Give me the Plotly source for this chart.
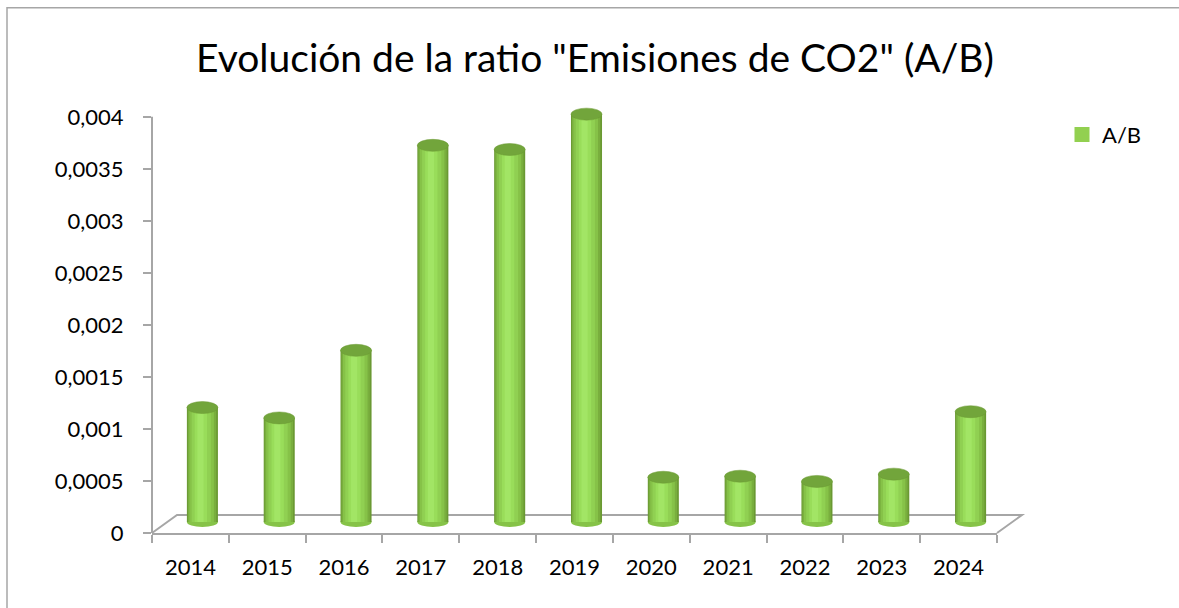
import plotly.graph_objects as go

years = ["2014", "2015", "2016", "2017", "2018", "2019", "2020", "2021", "2022", "2023", "2024"]
ratio_ab = [0.00110, 0.00100, 0.00165, 0.00362, 0.00358, 0.00392, 0.00043, 0.00044, 0.00039, 0.00046, 0.00106]
y_tick_vals = [0, 0.0005, 0.001, 0.0015, 0.002, 0.0025, 0.003, 0.0035, 0.004]
y_tick_text = ["0", "0,0005", "0,001", "0,0015", "0,002", "0,0025", "0,003", "0,0035", "0,004"]
series_name = "A/B"
title_text = 'Evolución de la ratio "Emisiones de CO2" (A/B)'

W, H = 1179, 608
YMAX_AXIS = 0.004      # top of the drawn value axis
YMAX_RANGE = 0.0042    # a bit of headroom so the cylinder caps are not clipped
AX_TOP_PX, AX_BOT_PX = 117, 533
ppu = (AX_BOT_PX - AX_TOP_PX) / YMAX_AXIS  # pixels per unit
L, R = 152, 182
B = H - AX_BOT_PX
T = AX_BOT_PX - ppu * YMAX_RANGE
PW, PH = W - L - R, H - T - B
depth_dx, depth_dy = 12, 11  # mid-depth shift of the bars (3D look)
cat_px = PW / len(years)

FONT = "Lato"
AXIS_COL = "#a6a6a6"

fig = go.Figure()

# cylinder body as layered bars (dark edge -> light centre)
layers = [
    (0.404, 0.0, "#6a9933"),
    (0.37, -0.005, "#79ae3e"),
    (0.32, -0.01, "#86c248"),
    (0.25, -0.015, "#90d052"),
    (0.16, -0.02, "#99dd5a"),
    (0.08, -0.025, "#a2e565"),
]
for w, off, col in layers:
    fig.add_trace(go.Bar(
        x=years, y=ratio_ab, width=w, offset=-w / 2 + off,
        marker=dict(color=col, line=dict(width=0)),
        xaxis="x2", yaxis="y2", showlegend=False, hoverinfo="skip",
    ))

# legend entry
fig.add_trace(go.Scatter(
    x=[None], y=[None], mode="markers", name=series_name,
    marker=dict(symbol="square", size=15, color="#92d050"),
))

shapes = []
half_w = 0.404 / 2
cap_h = 6 / ppu
bot_h = 5 / ppu
for i, v in enumerate(ratio_ab):
    shapes.append(dict(type="circle", xref="x2", yref="y2",
                       x0=i - half_w, x1=i + half_w, y0=v - cap_h, y1=v + cap_h,
                       fillcolor="#72a53b", line=dict(color="#6a9933", width=0.5), layer="above"))
    shapes.append(dict(type="circle", xref="x2", yref="y2",
                       x0=i - half_w, x1=i + half_w, y0=-bot_h, y1=bot_h,
                       fillcolor="#86c348", line=dict(width=0), layer="below"))

def px(xp):
    return (xp - L) / PW
def py(yp):
    return (H - B - yp) / PH

# value axis line (stops at 0.004)
shapes.append(dict(type="line", xref="paper", yref="y", x0=0, x1=0, y0=0, y1=YMAX_AXIS,
                   line=dict(color=AXIS_COL, width=2), layer="above"))
# floor (3D base)
back_y = AX_BOT_PX - 18
shapes.append(dict(type="path", xref="paper", yref="paper",
                   path=f"M {px(152)} {py(533)} L {px(177)} {py(back_y)} L {px(1022)} {py(back_y)} L {px(997)} {py(533)}",
                   line=dict(color=AXIS_COL, width=2), layer="below"))
# outer chart border
shapes.append(dict(type="rect", xref="paper", yref="paper",
                   x0=px(7), x1=px(1200), y0=py(630), y1=py(8),
                   line=dict(color="#a6a6a6", width=1.5), fillcolor="rgba(0,0,0,0)", layer="below"))

fig.update_layout(
    width=W, height=H,
    margin=dict(l=L, r=R, t=T, b=B, autoexpand=False),
    paper_bgcolor="white", plot_bgcolor="white",
    barmode="overlay",
    font=dict(family=FONT, color="#000000", size=22),
    title=dict(text=title_text, x=595 / W, xanchor="center", y=1 - 58 / H, yanchor="middle",
               xref="container", yref="container", font=dict(family=FONT, size=39, color="#000000")),
    showlegend=True,
    legend=dict(x=px(1062), y=py(135), xanchor="left", yanchor="middle",
                font=dict(family=FONT, size=22), itemwidth=30, bgcolor="rgba(0,0,0,0)"),
    xaxis=dict(type="category", categoryorder="array", categoryarray=years,
               range=[-0.5, len(years) - 0.5], tickmode="array", tickvals=years, ticktext=years,
               showline=True, linecolor=AXIS_COL, linewidth=2,
               ticks="outside", tickson="boundaries", ticklen=8, tickwidth=1.5, tickcolor=AXIS_COL,
               ticklabelstandoff=14,
               showgrid=False, zeroline=False, fixedrange=True,
               tickfont=dict(family=FONT, size=22)),
    yaxis=dict(range=[0, YMAX_RANGE], tickmode="array", tickvals=y_tick_vals, ticktext=y_tick_text,
               showline=False,
               ticks="outside", ticklen=8, tickwidth=1.5, tickcolor=AXIS_COL,
               ticklabelstandoff=15,
               showgrid=False, zeroline=False, tickfont=dict(family=FONT, size=22)),
    xaxis2=dict(type="category", overlaying="x",
                range=[-0.5 - depth_dx / cat_px, len(years) - 0.5 - depth_dx / cat_px],
                visible=False, categoryorder="array", categoryarray=years),
    yaxis2=dict(overlaying="y", range=[-depth_dy / ppu, YMAX_RANGE - depth_dy / ppu], visible=False),
    shapes=shapes,
)

fig.write_html("out.html",
               config={"displayModeBar": False},
               post_script="document.body.style.margin='0';document.body.style.overflow='hidden';")
